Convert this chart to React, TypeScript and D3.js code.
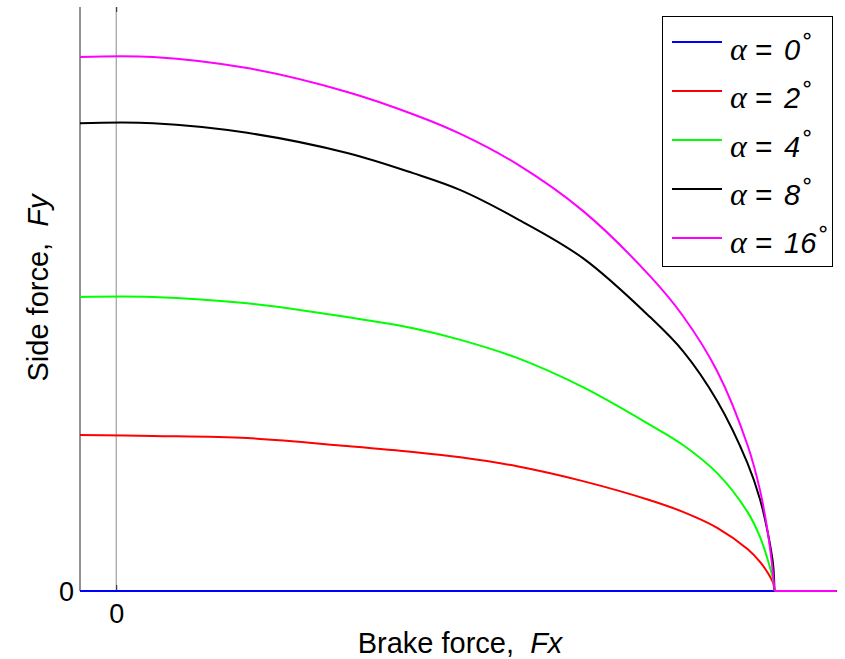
import React, { useEffect, useRef } from 'react';
import * as d3 from 'd3';

// brake force samples (same grid for every curve)
const fx = [-0.055, 0.056, 0.199, 0.351, 0.451, 0.523, 0.609, 0.709, 0.811, 0.861, 0.913, 0.959, 0.978, 0.99, 0.998, 1.0, 1.094];

// side force for each slip angle
const fyAlpha0 = [0, 0, 0, 0, 0, 0, 0, 0, 0, 0, 0, 0, 0, 0, 0, 0, 0];
const fyAlpha2 = [0.294, 0.292, 0.288, 0.273, 0.262, 0.252, 0.235, 0.207, 0.171, 0.149, 0.119, 0.079, 0.055, 0.034, 0.015, 0, 0];
const fyAlpha4 = [0.554, 0.554, 0.542, 0.516, 0.495, 0.473, 0.439, 0.384, 0.313, 0.275, 0.222, 0.149, 0.102, 0.058, 0.021, 0, 0];
const fyAlpha8 = [0.881, 0.881, 0.863, 0.825, 0.787, 0.755, 0.701, 0.627, 0.516, 0.452, 0.358, 0.241, 0.173, 0.109, 0.049, 0, 0];
const fyAlpha16 = [1.006, 1.006, 0.985, 0.94, 0.898, 0.861, 0.804, 0.716, 0.593, 0.518, 0.414, 0.275, 0.19, 0.109, 0.03, 0, 0];

const alphas = ['0', '2', '4', '8', '16'];
const colors = ['#0000ff', '#ff0000', '#00ff00', '#000000', '#ff00ff'];
const seriesValues = [fyAlpha0, fyAlpha2, fyAlpha4, fyAlpha8, fyAlpha16];

const xTicks = [0];
const yTicks = [0];

const W = 845, H = 659;
const margin = { top: 7, right: 8, bottom: 68, left: 80 };
const FONT = '"Liberation Sans", Arial, sans-serif';

const App = () => {
    const ref = useRef<SVGSVGElement>(null);

    useEffect(() => {
        const svg = d3.select(ref.current);
        svg.selectAll('*').remove();

        const x = d3.scaleLinear().domain([-0.055, 1.095]).range([margin.left, W - margin.right]);
        const y = d3.scaleLinear().domain([0, 1.1]).range([H - margin.bottom, margin.top]);

        // zero line for Fx
        svg.append('line')
            .attr('x1', x(0)).attr('x2', x(0))
            .attr('y1', y(1.1)).attr('y2', y(0))
            .attr('stroke', '#8c8c8c').attr('stroke-width', 1);

        // axes
        const left = svg.append('g')
            .attr('transform', `translate(${margin.left},0)`)
            .call(d3.axisLeft(y).tickValues(yTicks).tickSize(-6).tickPadding(6).tickFormat(d3.format('d')));
        const bottom = svg.append('g')
            .attr('transform', `translate(0,${H - margin.bottom})`)
            .call(d3.axisBottom(x).tickValues(xTicks).tickSize(-6).tickPadding(13).tickFormat(d3.format('d')));
        const top = svg.append('g')
            .attr('transform', `translate(0,${margin.top})`)
            .call(d3.axisTop(x).tickValues(xTicks).tickSize(-5).tickFormat(() => ''));
        top.select('.domain').remove();
        [left, bottom, top].forEach(g => {
            g.selectAll('path, line').attr('stroke', '#262626');
            g.selectAll('text').attr('font-family', FONT).attr('font-size', 27).attr('fill', '#000');
        });
        left.select('.domain').attr('d', `M0,${y(1.1)}V${y(0)}`);
        left.selectAll('text').attr('dy', '0.36em');
        bottom.select('.domain').attr('d', `M${x(-0.055)},0H${x(1.095)}`);
        bottom.selectAll('text').attr('dy', '0.71em');

        // curves: smooth part up to Fx max, then straight tail at zero
        const smooth = d3.line<number>()
            .x((d, i) => x(fx[i]))
            .y(d => y(d))
            .curve(d3.curveCatmullRom.alpha(0.5));
        const straight = d3.line<number>()
            .x((d, i) => x(fx[i + fx.length - 2]))
            .y(d => y(d));
        seriesValues.forEach((vals, k) => {
            const g = svg.append('g')
                .attr('fill', 'none')
                .attr('stroke', colors[k])
                .attr('stroke-width', 2);
            g.append('path').attr('d', smooth(vals.slice(0, vals.length - 1)));
            g.append('path').attr('d', straight(vals.slice(vals.length - 2)));
        });

        // labels
        const xl = svg.append('text')
            .attr('x', 460).attr('y', 653)
            .attr('text-anchor', 'middle')
            .attr('font-family', FONT).attr('font-size', 29);
        xl.append('tspan').text('Brake force,\u00a0\u00a0');
        xl.append('tspan').attr('font-style', 'italic').text('Fx');

        const yl = svg.append('text')
            .attr('transform', 'translate(48,288) rotate(-90)')
            .attr('text-anchor', 'middle')
            .attr('font-family', FONT).attr('font-size', 29);
        yl.append('tspan').text('Side force,\u00a0\u00a0');
        yl.append('tspan').attr('font-style', 'italic').text('Fy');

        // legend
        const lg = svg.append('g');
        lg.append('rect')
            .attr('x', 662.5).attr('y', 16.5).attr('width', 170).attr('height', 250)
            .attr('fill', '#fff').attr('stroke', '#000').attr('stroke-width', 1);
        alphas.forEach((a, k) => {
            const ly = 42 + k * 49;
            const by = 60 + k * 48.3;
            lg.append('line')
                .attr('x1', 672).attr('x2', 722).attr('y1', ly).attr('y2', ly)
                .attr('stroke', colors[k]).attr('stroke-width', 2);
            lg.append('text')
                .attr('x', 730).attr('y', by)
                .attr('font-family', '"Liberation Serif", serif').attr('font-size', 32).attr('font-style', 'italic')
                .text('\u03b1');
            lg.append('text')
                .attr('x', 755).attr('y', by)
                .attr('font-family', FONT).attr('font-size', 30)
                .text('=');
            const t = lg.append('text')
                .attr('x', 784).attr('y', by)
                .attr('font-family', FONT).attr('font-size', 29).attr('font-style', 'italic');
            t.append('tspan').text(a);
            t.append('tspan').attr('dx', 0).attr('dy', -17).attr('font-size', 22).attr('font-style', 'normal')
                .attr('font-family', '"DejaVu Sans", sans-serif').text('\u2218');
        });
    }, []);

    return (
        <svg ref={ref} width={W} height={H}
            style={{ position: 'absolute', left: 0, top: 0, background: '#fff' }} />
    );
};

export default App;
